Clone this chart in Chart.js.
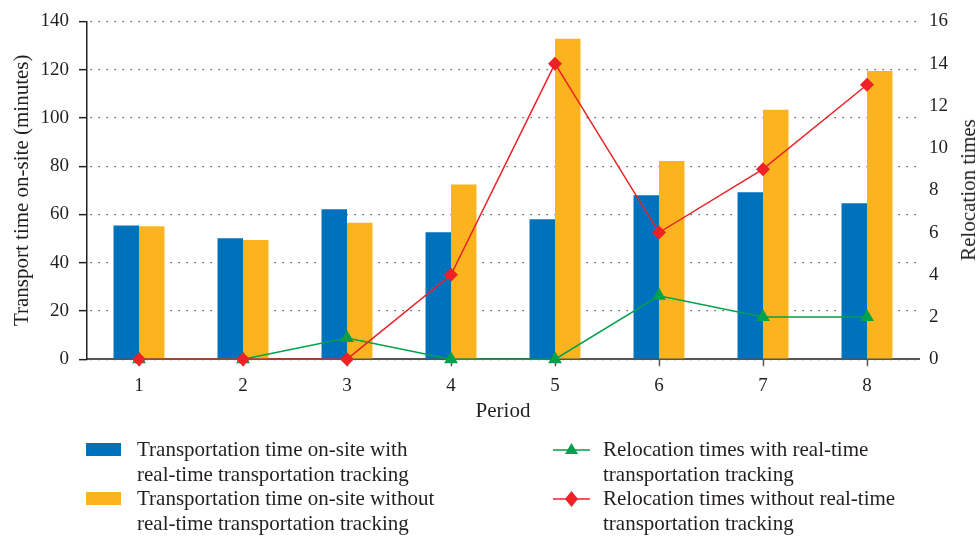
<!DOCTYPE html>
<html>
<head>
<meta charset="utf-8">
<script src="https://cdn.jsdelivr.net/npm/chart.js@4/dist/chart.umd.min.js"></script>
<style>
  html, body { margin: 0; padding: 0; background: #fff; }
  #wrap { position: relative; width: 977px; height: 539px; }
  #chart { position: absolute; left: 0; top: 0; }
  .lg { position: absolute; font-family: "Liberation Serif", "DejaVu Serif", serif; font-size: 21px; color: #231f20; line-height: 24.5px; white-space: nowrap; }
  .sw { position: absolute; }
  #rtitle { position: absolute; left: 968px; top: 190px; transform: translate(-50%, -50%) rotate(-90deg);
            font-family: "Liberation Serif", "DejaVu Serif", serif; font-size: 21px; color: #231f20; white-space: nowrap; line-height: 24px; }
</style>
</head>
<body>
<div id="wrap">
  <canvas id="chart" width="977" height="539"></canvas>
  <div id="rtitle"></div>
  <div id="legend"></div>
</div>
<script>
// Periods on the x axis
const periods = ['1', '2', '3', '4', '5', '6', '7', '8'];

// Transport time on-site (minutes)
const timeWithTracking = [55.4, 50.1, 62.1, 52.6, 58.0, 67.9, 69.2, 64.6];
const timeWithoutTracking = [55.1, 49.4, 56.6, 72.4, 132.8, 82.1, 103.4, 119.4];

// Relocation times
const relocWithTracking = [0, 0, 1, 0, 0, 3, 2, 2];
const relocWithoutTracking = [0, 0, 0, 4, 14, 6, 9, 13];

// Axis titles
const xTitle = 'Period';
const leftTitle = 'Transport time on-site (minutes)';
const rightTitle = 'Relocation times';

// Legend text, split into lines
const legendLines = [
  ['Transportation time on-site with', 'real-time transportation tracking'],
  ['Transportation time on-site without', 'real-time transportation tracking'],
  ['Relocation times with real-time', 'transportation tracking'],
  ['Relocation times without real-time', 'transportation tracking']
];

const BLUE = '#0071bc';
const ORANGE = '#fbb41f';
const GREEN = '#00a14b';
const RED = '#ec2227';
const TEXT = '#231f20';
const FAMILY = '"Liberation Serif", "DejaVu Serif", serif';
const TICK_FONT = { family: FAMILY, size: 19 };
const TITLE_FONT = { family: FAMILY, size: 21 };

// Plot area edges in canvas pixels
const PLOT_LEFT = 87;
const PLOT_RIGHT = 919;
const PAD_LEFT = 10;
const PAD_RIGHT = 27;

const chart = new Chart(document.getElementById('chart'), {
  type: 'bar',
  data: {
    labels: periods,
    datasets: [
      { type: 'bar', label: legendLines[0].join(' '), data: timeWithTracking, backgroundColor: BLUE,
        yAxisID: 'y', order: 3, categoryPercentage: 0.49, barPercentage: 1.0 },
      { type: 'bar', label: legendLines[1].join(' '), data: timeWithoutTracking, backgroundColor: ORANGE,
        yAxisID: 'y', order: 3, categoryPercentage: 0.49, barPercentage: 1.0 },
      { type: 'line', label: legendLines[2].join(' '), data: relocWithTracking, borderColor: GREEN, backgroundColor: GREEN,
        borderWidth: 1.5, pointStyle: 'triangle', pointRadius: 8, pointBorderWidth: 0, yAxisID: 'y1', order: 1, clip: false, tension: 0 },
      { type: 'line', label: legendLines[3].join(' '), data: relocWithoutTracking, borderColor: RED, backgroundColor: RED,
        borderWidth: 1.5, pointStyle: 'rectRot', pointRadius: 7, pointBorderWidth: 0, yAxisID: 'y1', order: 0, clip: false, tension: 0 }
    ]
  },
  options: {
    responsive: false,
    animation: false,
    layout: { padding: { top: 10, bottom: 115, left: PAD_LEFT, right: PAD_RIGHT } },
    plugins: { legend: { display: false }, tooltip: { enabled: false } },
    scales: {
      x: {
        offset: true,
        grid: { display: true, offset: false, drawOnChartArea: false, drawTicks: true, tickLength: 7, tickColor: '#555', tickWidth: 1.5 },
        border: { display: true, color: '#555', width: 2 },
        ticks: { color: TEXT, font: { family: FAMILY, size: 19, lineHeight: 1.0 }, padding: 10, maxRotation: 0 },
        title: { display: true, text: xTitle, color: TEXT, font: { family: FAMILY, size: 21, lineHeight: 0.8 }, padding: { top: -2, bottom: 4 } }
      },
      y: {
        position: 'left',
        min: 0, max: 140,
        ticks: { stepSize: 20, color: TEXT, font: TICK_FONT, padding: 10 },
        grid: { color: '#444', lineWidth: 1.3, drawTicks: true, tickLength: 8, tickColor: '#222', tickWidth: 1.5, tickBorderDash: [] },
        border: { display: true, color: '#222', width: 1.5, dash: [1.3, 6.7], dashOffset: -3 },
        title: { display: true, text: leftTitle, color: TEXT, font: TITLE_FONT, padding: { top: 0, bottom: 4 } },
        afterFit: (scale) => { scale.width = PLOT_LEFT - PAD_LEFT; }
      },
      y1: {
        position: 'right',
        min: 0, max: 16,
        ticks: { stepSize: 2, color: TEXT, font: TICK_FONT, padding: 10 },
        grid: { display: false, drawTicks: false },
        border: { display: false },
        title: { display: false },
        afterFit: (scale) => { scale.width = 977 - PAD_RIGHT - PLOT_RIGHT; }
      }
    }
  }
});

// Right axis title reads bottom-to-top like the left one
document.getElementById('rtitle').textContent = rightTitle;

// Two-column legend built from the chart's datasets
(function buildLegend() {
  const host = document.getElementById('legend');
  const ds = chart.data.datasets;
  const cols = [
    { swX: 86, textX: 137 },
    { swX: 553, textX: 603 }
  ];
  const rowY = [437, 486];
  ds.forEach((d, i) => {
    const col = cols[Math.floor(i / 2)];
    const top = rowY[i % 2];
    const t = document.createElement('div');
    t.className = 'lg';
    t.style.left = col.textX + 'px';
    t.style.top = top + 'px';
    t.innerHTML = legendLines[i].join('<br>');
    host.appendChild(t);

    const sw = document.createElement('canvas');
    sw.className = 'sw';
    sw.width = 40; sw.height = 20;
    sw.style.left = col.swX + 'px';
    sw.style.top = (top + 2) + 'px';
    const c = sw.getContext('2d');
    if (d.type === 'bar') {
      c.fillStyle = d.backgroundColor;
      c.fillRect(0, 4, 35, 13);
    } else {
      c.strokeStyle = d.borderColor;
      c.lineWidth = 1.5;
      c.beginPath(); c.moveTo(0, 11); c.lineTo(37, 11); c.stroke();
      c.fillStyle = d.backgroundColor;
      c.beginPath();
      if (d.pointStyle === 'triangle') {
        c.moveTo(18.5, 4); c.lineTo(25, 15); c.lineTo(12, 15);
      } else {
        c.moveTo(18.5, 3); c.lineTo(25, 11); c.lineTo(18.5, 19); c.lineTo(12, 11);
      }
      c.closePath(); c.fill();
    }
    host.appendChild(sw);
  });
})();
</script>
</body>
</html>
